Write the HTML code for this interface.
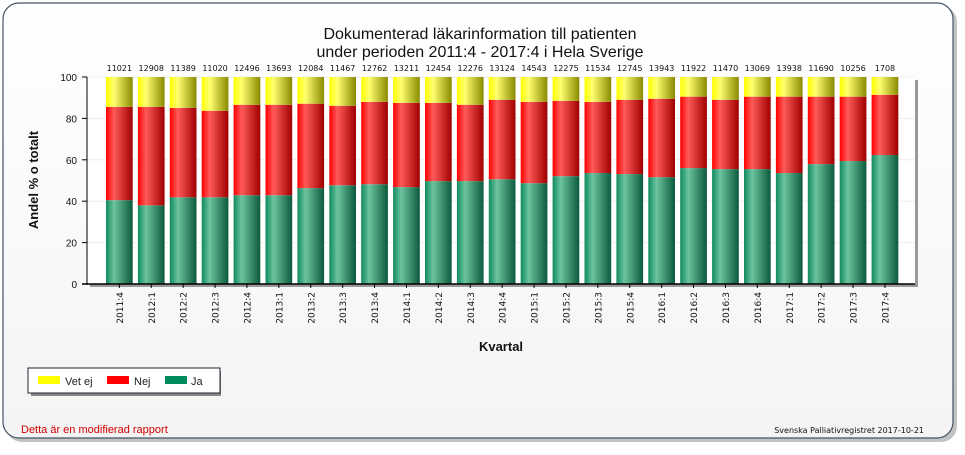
<!DOCTYPE html>
<html><head><meta charset="utf-8"><style>
body{margin:0;background:#fff;width:965px;height:450px;overflow:hidden;font-family:"Liberation Sans",sans-serif}
</style></head><body>
<svg width="965" height="450">
<defs>
<linearGradient id="gG" x1="0" x2="1"><stop offset="0" stop-color="#0f8a5f"/><stop offset="0.3" stop-color="#6cc49e"/><stop offset="1" stop-color="#0b5a3c"/></linearGradient>
<linearGradient id="gR" x1="0" x2="1"><stop offset="0" stop-color="#ff0000"/><stop offset="0.3" stop-color="#ff5a5a"/><stop offset="1" stop-color="#a00000"/></linearGradient>
<linearGradient id="gY" x1="0" x2="1"><stop offset="0" stop-color="#ffff00"/><stop offset="0.3" stop-color="#ffff70"/><stop offset="1" stop-color="#8a8a00"/></linearGradient>
<linearGradient id="bg" x1="0" y1="0" x2="0" y2="1"><stop offset="0" stop-color="#ffffff"/><stop offset="1" stop-color="#f4f4f4"/></linearGradient>
</defs>
<rect x="6" y="6" width="951" height="436" rx="16" fill="#888" opacity="0.5"/>
<rect x="3" y="3" width="950" height="435" rx="16" fill="url(#bg)" stroke="#445566" stroke-width="1.2"/>
<text x="480" y="39" text-anchor="middle" font-size="16" fill="#111">Dokumenterad läkarinformation till patienten</text>
<text x="480" y="57" text-anchor="middle" font-size="16" fill="#111">under perioden 2011:4 - 2017:4 i Hela Sverige</text>
<rect x="90" y="80" width="828" height="207" fill="#999"/>
<rect x="87" y="77" width="828" height="207" fill="#fff"/>
<g id="grid"></g>
<g id="bars"></g>
<g id="axes"></g>
<text transform="translate(38,180) rotate(-90)" text-anchor="middle" font-size="13" font-weight="bold" fill="#111">Andel % o totalt</text>
<text x="501" y="351" text-anchor="middle" font-size="13" font-weight="bold" fill="#111">Kvartal</text>
<g>
<rect x="31" y="371" width="190" height="25" fill="#888"/>
<rect x="28" y="368" width="192" height="25" fill="#fff" stroke="#223" stroke-width="1"/>
<rect x="38" y="376" width="22" height="8" fill="#ffff00"/>
<text x="65" y="385" font-size="11" fill="#222">Vet ej</text>
<rect x="107" y="376" width="22" height="8" fill="#ff0000"/>
<text x="134" y="385" font-size="11" fill="#222">Nej</text>
<rect x="165" y="376" width="22" height="8" fill="#008a5e"/>
<text x="191" y="385" font-size="11" fill="#222">Ja</text>
</g>
<text x="21" y="433" font-size="11" fill="#d00000">Detta är en modifierad rapport</text>
<text x="924" y="433" text-anchor="end" font-size="8" fill="#111" font-family="DejaVu Sans, sans-serif">Svenska Palliativregistret 2017-10-21</text>
</svg>
<script>
const categories=["2011:4","2012:1","2012:2","2012:3","2012:4","2013:1","2013:2","2013:3","2013:4","2014:1","2014:2","2014:3","2014:4","2015:1","2015:2","2015:3","2015:4","2016:1","2016:2","2016:3","2016:4","2017:1","2017:2","2017:3","2017:4"];
const totals=[11021,12908,11389,11020,12496,13693,12084,11467,12762,13211,12454,12276,13124,14543,12275,11534,12745,13943,11922,11470,13069,13938,11690,10256,1708];
const ja=[40.5,38,41.9,41.9,42.9,42.9,46.3,47.7,48.2,46.8,49.7,49.7,50.6,48.7,52.1,53.6,53.1,51.6,56,55.5,55.5,53.6,57.9,59.4,62.3];
const nej=[45.1,47.6,43.2,41.8,43.7,43.7,40.8,38.4,39.8,40.7,37.8,36.9,38.4,39.3,36.4,34.4,35.9,37.9,34.5,33.5,35,36.9,32.6,31.1,29.1];
const vetEj=[14.4,14.4,14.9,16.3,13.4,13.4,12.9,13.9,12,12.5,12.5,13.4,11,12,11.5,12,11,10.5,9.5,11,9.5,9.5,9.5,9.5,8.6];
const yTicks=[0,20,40,60,80,100];
const NS="http://www.w3.org/2000/svg";
const X0=87,Y0=284,H=207,STEP=31.9,BW=26.7,FIRST=106;
const y=v=>Y0-v/100*H;
const xb=i=>FIRST+i*STEP;
function mk(tag,attrs,parent){const e=document.createElementNS(NS,tag);for(const k in attrs)e.setAttribute(k,attrs[k]);parent.appendChild(e);return e;}
const grid=document.getElementById('grid'),bars=document.getElementById('bars'),axes=document.getElementById('axes');
yTicks.forEach(t=>{
 const l=mk('line',{x1:X0,x2:915,y1:y(t),y2:y(t),stroke:'#eeeeee'},grid);
 
 
 const tk=mk('line',{x1:X0-5,x2:X0,y1:y(t),y2:y(t),stroke:'#000'},axes);
 
 
 const tx=mk('text',{x:X0-10,y:y(t)+4,'text-anchor':'end','font-size':'10',fill:'#111'},axes);
 tx.textContent=t;
 
 
});
categories.forEach((c,i)=>{
 const x=xb(i);
 const segs=[[0,ja[i],'url(#gG)','bar-ja'],[ja[i],ja[i]+nej[i],'url(#gR)','bar-nej'],[ja[i]+nej[i],Math.min(100,ja[i]+nej[i]+vetEj[i]),'url(#gY)','bar-vet-ej']];
 segs.forEach(s=>{
  const r=mk('rect',{x:x,y:y(s[1]),width:BW,height:y(s[0])-y(s[1]),fill:s[2]},bars);
  
  
 });
 const t=mk('text',{x:x+BW/2,y:71,'text-anchor':'middle','font-size':'8',fill:'#111','font-family':'DejaVu Sans, sans-serif'},bars);
 t.textContent=totals[i];
 
 
 const tk=mk('line',{x1:x+BW/2,x2:x+BW/2,y1:Y0,y2:Y0+4,stroke:'#000'},axes);
 
 
 const lb=mk('text',{transform:`translate(${x+BW/2+3.5},${Y0+8}) rotate(-90)`,'text-anchor':'end','font-size':'9',fill:'#111','font-family':'DejaVu Sans, sans-serif'},axes);
 lb.textContent=c;
 
 
});
const ax=mk('line',{x1:X0,x2:X0,y1:77,y2:Y0+1,stroke:'#000'},axes);


const bx=mk('line',{x1:X0-5,x2:915,y1:Y0,y2:Y0,stroke:'#000','stroke-width':'1.5'},axes);


</script>
</body></html>
